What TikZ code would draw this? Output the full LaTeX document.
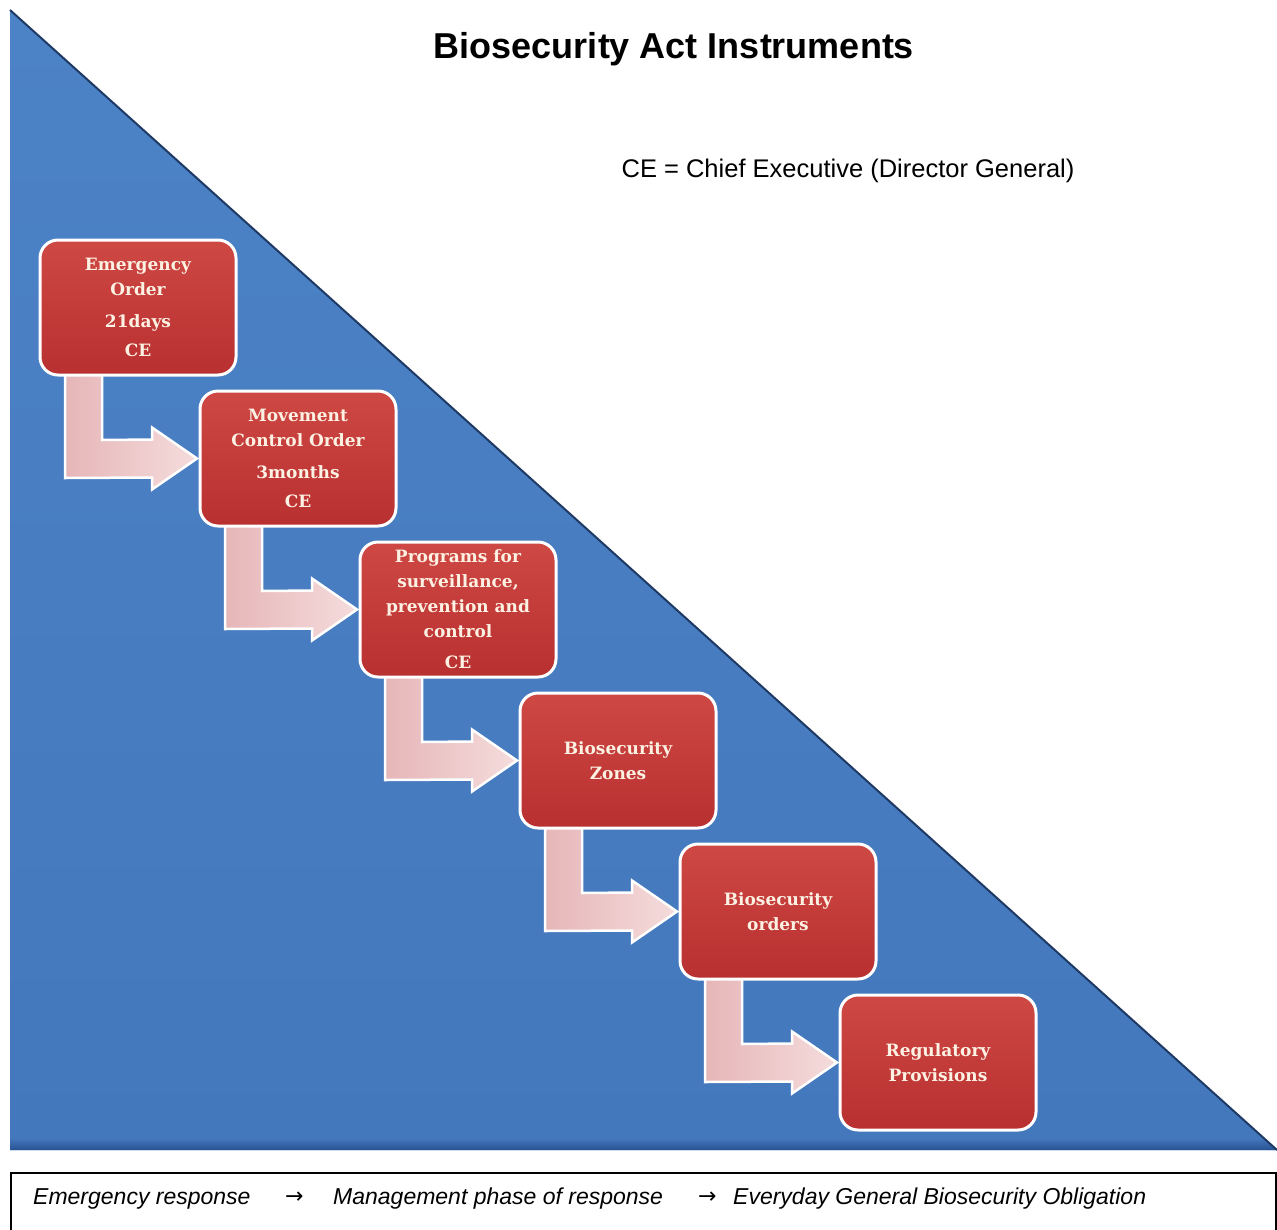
\documentclass[tikz,border=0pt]{standalone}
\usepackage{fontspec}
\setmainfont{DejaVu Serif}
\newfontfamily\sansfont{Liberation Sans}
\newfontfamily\arrowfont{DejaVu Sans}
\usetikzlibrary{calc}
\pgfdeclarelayer{bg}
\pgfdeclarelayer{arrowlayer}
\pgfsetlayers{bg,arrowlayer,main}

\definecolor{tritop}{RGB}{76,130,198}
\definecolor{tribot}{RGB}{68,120,188}
\definecolor{triedge}{RGB}{30,58,100}
\definecolor{tribase}{RGB}{40,82,146}
\definecolor{boxtop}{RGB}{206,72,68}
\definecolor{boxbot}{RGB}{184,48,48}
\definecolor{boxtext}{RGB}{252,241,226}
\definecolor{arrowleft}{RGB}{230,182,184}
\definecolor{arrowright}{RGB}{245,220,220}

\begin{document}
\begin{tikzpicture}[x=1pt,y=-1pt,
  stagebox/.style={draw=white, line width=3pt, rounded corners=18pt,
    minimum width=196pt, minimum height=135pt, inner sep=0pt, outer sep=0pt,
    top color=boxtop, bottom color=boxbot, align=center, text=boxtext,
    font=\bfseries\fontsize{17}{25}\selectfont},
  bentarrow/.style={draw=white, line width=2.5pt, line join=miter,
    left color=arrowleft, right color=arrowright},
  legendtext/.style={anchor=base west, inner sep=0pt,
    font=\sansfont\itshape\fontsize{23}{27}\selectfont},
  legendarrow/.style={anchor=base west, inner sep=0pt,
    font=\arrowfont\fontsize{22}{26}\selectfont}]
\useasboundingbox (0,0) rectangle (1277,1229);

% background triangle
\begin{pgfonlayer}{bg}
  \fill[white] (0,0) rectangle (1277,1229);
  \shade[top color=tritop, bottom color=tribot] (10,10) -- (1277,1150) -- (10,1150) -- cycle;
  \begin{scope}
    \clip (10,10) -- (1277,1150) -- (10,1150) -- cycle;
    \shade[top color=tribot, bottom color=tribase] (0,1138) rectangle (1277,1150);
  \end{scope}
  \draw[triedge, line width=2pt] (10,10) -- (1277,1150);
\end{pgfonlayer}

% titles
\node[anchor=base, inner sep=0pt, font=\sansfont\bfseries\fontsize{36}{40}\selectfont]
  (title) at (674,58) {Biosecurity Act Instruments};
\node[anchor=base, inner sep=0pt, font=\sansfont\fontsize{25.5}{30}\selectfont]
  (key) at (848,177) {CE = Chief Executive (Director General)};

% stages
\node[stagebox] (b1) at (138,307.5) {Emergency\\Order\\[7pt]21days\\[4pt]CE};
\node[stagebox] (b2) at (298,458.5) {Movement\\Control Order\\[7pt]3months\\[4pt]CE};
\node[stagebox] (b3) at (458,609.5) {Programs for\\surveillance,\\prevention and\\control\\[6pt]CE};
\node[stagebox] (b4) at (618,760.5) {Biosecurity\\Zones};
\node[stagebox] (b5) at (778,911.5) {Biosecurity\\orders};
\node[stagebox] (b6) at (938,1062.5) {Regulatory\\Provisions};

% bent arrows between stages
\begin{pgfonlayer}{arrowlayer}
\foreach \a/\b in {b1/b2,b2/b3,b3/b4,b4/b5,b5/b6}{
  \path[bentarrow]
    ($(\a.south west)+(25,-2)$) -- ($(\a.south west)+(62,-2)$)
    -- ($(\a.south west)+(62,65)$) -- ($(\b.west)+(-48,-19)$)
    -- ($(\b.west)+(-48,-31)$) -- ($(\b.west)+(-3,0)$)
    -- ($(\b.west)+(-48,31)$) -- ($(\b.west)+(-48,19)$)
    -- ($(\a.south west)+(25,103)$) -- cycle;
}
\end{pgfonlayer}

% legend
\draw[line width=1.2pt] (11,1173) rectangle (1276,1240);
\node[legendtext] (l1) at (33,1204) {Emergency response};
\node[legendarrow] (l2) at (285,1203) {→};
\node[legendtext] (l3) at (333,1204) {Management phase of response};
\node[legendarrow] (l4) at (698,1203) {→};
\node[legendtext] (l5) at (733,1204) {Everyday General Biosecurity Obligation};
\end{tikzpicture}
\end{document}
